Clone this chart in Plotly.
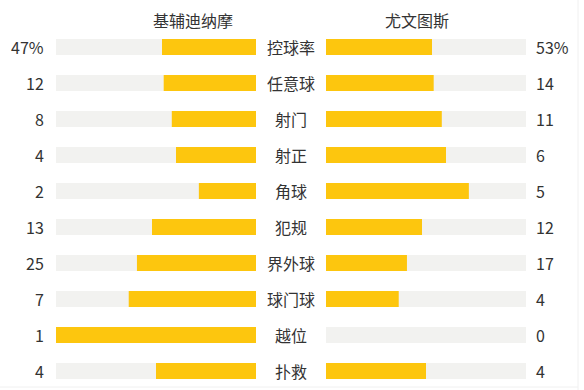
import plotly.graph_objects as go

categories = ["控球率", "任意球", "射门", "射正", "角球", "犯规", "界外球", "球门球", "越位", "扑救"]
home_values = [47, 12, 8, 4, 2, 13, 25, 7, 1, 4]
away_values = [53, 14, 11, 6, 5, 12, 17, 4, 0, 4]
suffixes = ["%", "", "", "", "", "", "", "", "", ""]
home_team = "基辅迪纳摩"
away_team = "尤文图斯"

W, H = 584, 390
YELLOW = "#FDC60E"
TRACK = "#F2F2F0"
TEXT = "#333333"
FONT = "Noto Sans CJK SC"
FS = 16

idx = list(range(len(categories)))
home_share = [h / (h + a) if (h + a) else 0 for h, a in zip(home_values, away_values)]
away_share = [a / (h + a) if (h + a) else 0 for h, a in zip(home_values, away_values)]
full = [1] * len(categories)

fig = go.Figure()
bw = 16 / 36
for xa, share in (("x", home_share), ("x2", away_share)):
    fig.add_trace(go.Bar(y=idx, x=full, orientation="h", marker=dict(color=TRACK, line_width=0),
                         width=bw, xaxis=xa, yaxis="y", hoverinfo="skip", showlegend=False))
    fig.add_trace(go.Bar(y=idx, x=share, orientation="h", marker=dict(color=YELLOW, line_width=0),
                         width=bw, xaxis=xa, yaxis="y", hoverinfo="skip", showlegend=False))

ann = []
for i, (c, h, a, s) in enumerate(zip(categories, home_values, away_values, suffixes)):
    ann.append(dict(x=46 / W, xref="paper", y=i, yref="y", text=f"{h}{s}", xanchor="right",
                    showarrow=False, font=dict(size=FS, color=TEXT, family=FONT)))
    ann.append(dict(x=534 / W, xref="paper", y=i, yref="y", text=f"{a}{s}", xanchor="left",
                    showarrow=False, font=dict(size=FS, color=TEXT, family=FONT)))
    ann.append(dict(x=291 / W, xref="paper", y=i, yref="y", text=c, xanchor="center",
                    showarrow=False, font=dict(size=FS, color=TEXT, family=FONT)))
ann.append(dict(x=193 / W, xref="paper", y=-0.75, yref="y", text=home_team, xanchor="center",
                showarrow=False, font=dict(size=FS, color=TEXT, family=FONT)))
ann.append(dict(x=417 / W, xref="paper", y=-0.75, yref="y", text=away_team, xanchor="center",
                showarrow=False, font=dict(size=FS, color=TEXT, family=FONT)))

fig.update_layout(
    width=W, height=H, margin=dict(l=0, r=0, t=0, b=0),
    paper_bgcolor="white", plot_bgcolor="white", barmode="overlay",
    xaxis=dict(domain=[56 / W, 256 / W], range=[1, 0], visible=False, fixedrange=True),
    xaxis2=dict(domain=[326 / W, 526 / W], range=[0, 1], visible=False, fixedrange=True, anchor="y"),
    yaxis=dict(range=[9.5278, -1.3056], visible=False, fixedrange=True),
    annotations=ann,
    shapes=[
        dict(type="line", xref="paper", yref="paper", x0=578 / W, x1=578 / W, y0=0, y1=1,
             line=dict(color="#F0F0F0", width=1)),
        dict(type="line", xref="paper", yref="paper", x0=0, x1=578 / W, y0=3 / H, y1=3 / H,
             line=dict(color="#F0F0F0", width=1)),
    ],
)
fig.write_html("out.html")
